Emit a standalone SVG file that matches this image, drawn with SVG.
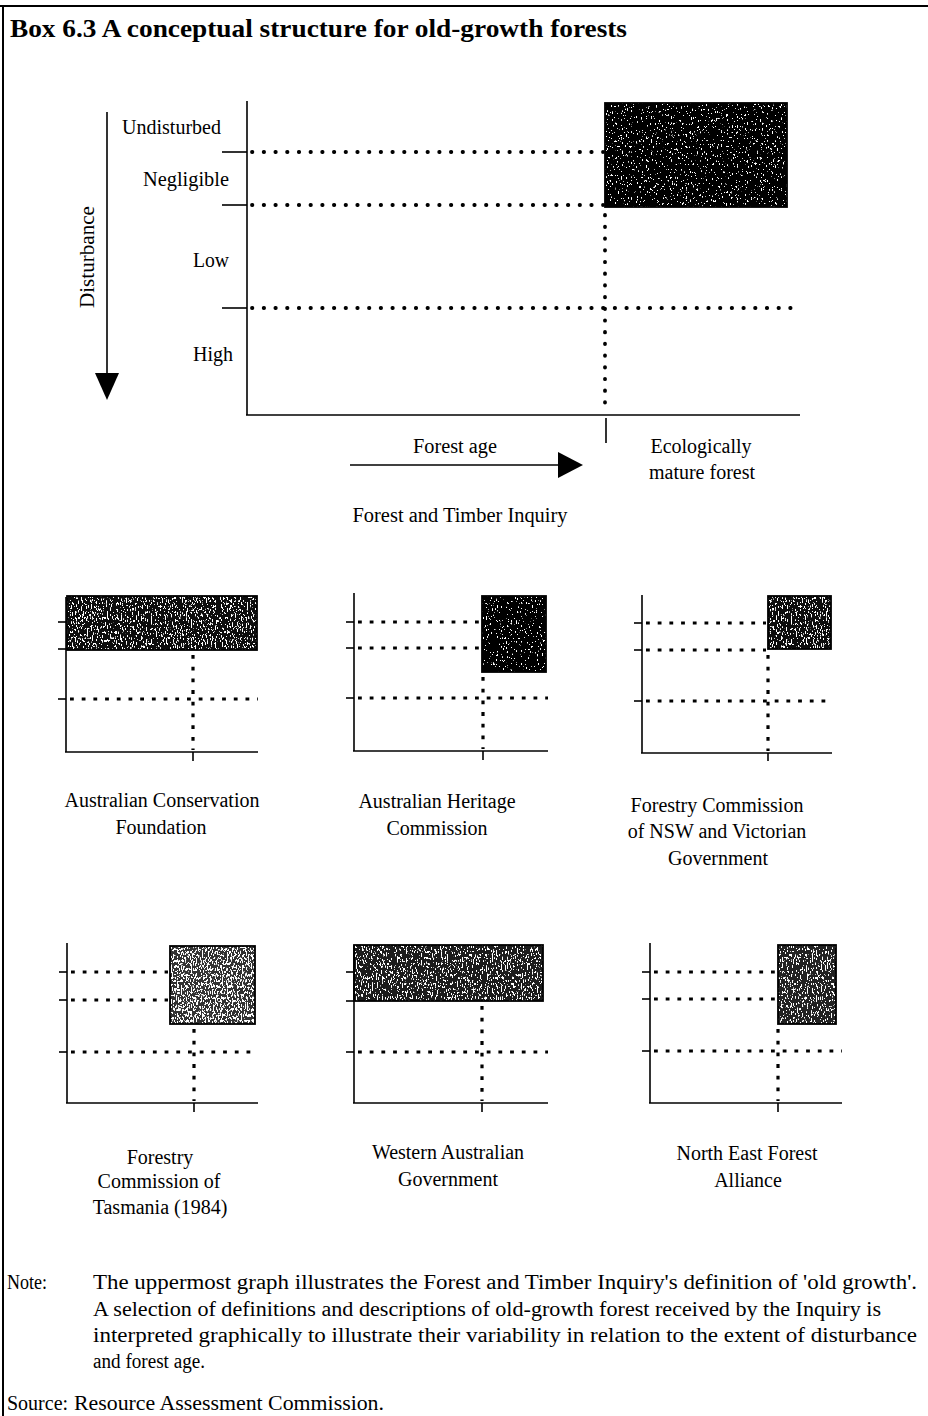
<svg xmlns="http://www.w3.org/2000/svg" width="928" height="1416" viewBox="0 0 928 1416">
<style>
.ax{stroke:#000;stroke-width:1.6;fill:none}
.bd{stroke:#000;stroke-width:2;fill:none}
.dot{stroke:#000;stroke-width:3.8;stroke-linecap:round;stroke-dasharray:0.4 11.3;fill:none}
.sdot{stroke:#000;stroke-width:3.2;stroke-dasharray:3.8 7.9;fill:none}
.box{stroke:#000;stroke-width:1.8;fill:none}
.t{font-family:"Liberation Serif","Times New Roman",serif;font-size:20px;fill:#000}
.c{text-anchor:middle}
.title{font-family:"Liberation Serif","Times New Roman",serif;font-size:26px;font-weight:bold;fill:#000}
</style>
<defs>
<filter id="nDark" x="0" y="0" width="1" height="1">
<feTurbulence type="fractalNoise" baseFrequency="0.8 0.35" numOctaves="2" seed="7" result="t"/>
<feColorMatrix in="t" type="matrix" values="0 0 0 0 1 0 0 0 0 1 0 0 0 0 1 -25 0 0 0 8.5" result="w"/>
<feComposite in="w" in2="SourceGraphic" operator="in" result="wc"/>
<feMerge><feMergeNode in="SourceGraphic"/><feMergeNode in="wc"/></feMerge>
</filter>
<filter id="nMed" x="0" y="0" width="1" height="1">
<feTurbulence type="fractalNoise" baseFrequency="0.8 0.35" numOctaves="2" seed="3" result="t"/>
<feColorMatrix in="t" type="matrix" values="0 0 0 0 1 0 0 0 0 1 0 0 0 0 1 -25 0 0 0 10.2" result="w"/>
<feComposite in="w" in2="SourceGraphic" operator="in" result="wc"/>
<feMerge><feMergeNode in="SourceGraphic"/><feMergeNode in="wc"/></feMerge>
</filter>
<filter id="nLight" x="0" y="0" width="1" height="1">
<feTurbulence type="fractalNoise" baseFrequency="0.8 0.35" numOctaves="2" seed="11" result="t"/>
<feColorMatrix in="t" type="matrix" values="0 0 0 0 1 0 0 0 0 1 0 0 0 0 1 -25 0 0 0 11.8" result="w"/>
<feComposite in="w" in2="SourceGraphic" operator="in" result="wc"/>
<feMerge><feMergeNode in="SourceGraphic"/><feMergeNode in="wc"/></feMerge>
</filter>
</defs>
<rect width="928" height="1416" fill="#fff"/>
<g id="frame">
<line class="bd" x1="0" y1="6" x2="928" y2="6"/>
<line class="bd" x1="3" y1="5" x2="3" y2="1416"/>
</g>
<text id="title" class="title" x="10" y="37" textLength="617" lengthAdjust="spacingAndGlyphs">Box 6.3  A conceptual structure for old-growth forests</text>

<g id="main-graph">
<rect x="605" y="103" width="182" height="104" fill="#000" filter="url(#nDark)"/>
<rect class="box" x="605" y="103" width="182" height="104"/>
<line class="ax" x1="247" y1="101" x2="247" y2="415"/>
<line class="ax" x1="246" y1="415" x2="800" y2="415"/>
<line class="ax" x1="222" y1="152" x2="247" y2="152"/>
<line class="ax" x1="222" y1="205" x2="247" y2="205"/>
<line class="ax" x1="222" y1="308" x2="247" y2="308"/>
<line class="dot" x1="252" y1="152" x2="603" y2="152"/>
<line class="dot" x1="252" y1="205" x2="603" y2="205"/>
<line class="dot" x1="252" y1="308" x2="798" y2="308"/>
<line class="dot" x1="605" y1="215" x2="605" y2="412"/>
<line class="ax" x1="606" y1="418" x2="606" y2="443"/>
<text class="t" x="122" y="134" textLength="99" lengthAdjust="spacingAndGlyphs">Undisturbed</text>
<text class="t" x="143" y="186" textLength="86" lengthAdjust="spacingAndGlyphs">Negligible</text>
<text class="t" x="193" y="267" textLength="36" lengthAdjust="spacingAndGlyphs">Low</text>
<text class="t" x="193" y="361" textLength="40" lengthAdjust="spacingAndGlyphs">High</text>
</g>

<g id="disturbance-axis">
<line class="ax" x1="107" y1="112" x2="107" y2="375"/>
<polygon points="95,373 119,373 107,400" fill="#000"/>
<text class="t c" transform="translate(94,257) rotate(-90)" textLength="102" lengthAdjust="spacingAndGlyphs">Disturbance</text>
</g>

<g id="age-axis">
<line class="ax" x1="350" y1="465" x2="560" y2="465"/>
<polygon points="558,452 558,478 583,465" fill="#000"/>
<text class="t c" x="455" y="453" textLength="84" lengthAdjust="spacingAndGlyphs">Forest age</text>
<text class="t c" x="701" y="453">Ecologically</text>
<text class="t c" x="702" y="479">mature forest</text>
<text class="t c" x="460" y="522" textLength="215" lengthAdjust="spacingAndGlyphs">Forest and Timber Inquiry</text>
</g>

<g id="acf">
<rect x="67" y="596" width="190" height="54" fill="#111" filter="url(#nMed)"/>
<rect class="box" x="67" y="596" width="190" height="54"/>
<line class="ax" x1="66" y1="597" x2="66" y2="752"/>
<line class="ax" x1="65" y1="752" x2="258" y2="752"/>
<line class="ax" x1="58" y1="622" x2="66" y2="622"/>
<line class="ax" x1="58" y1="649" x2="66" y2="649"/>
<line class="ax" x1="58" y1="699" x2="66" y2="699"/>
<line class="sdot" x1="70" y1="699" x2="258" y2="699"/>
<line class="sdot" x1="193" y1="655" x2="193" y2="750"/>
<line class="ax" x1="193" y1="752" x2="193" y2="761"/>
<text class="t c" x="162" y="807">Australian Conservation</text>
<text class="t c" x="161" y="834">Foundation</text>
</g>

<g id="ahc">
<rect x="482" y="596" width="64" height="76" fill="#000" filter="url(#nDark)"/>
<rect class="box" x="482" y="596" width="64" height="76"/>
<line class="ax" x1="354" y1="593" x2="354" y2="751"/>
<line class="ax" x1="353" y1="751" x2="548" y2="751"/>
<line class="ax" x1="346" y1="622" x2="354" y2="622"/>
<line class="ax" x1="346" y1="648" x2="354" y2="648"/>
<line class="ax" x1="346" y1="698" x2="354" y2="698"/>
<line class="sdot" x1="358" y1="622" x2="480" y2="622"/>
<line class="sdot" x1="358" y1="648" x2="480" y2="648"/>
<line class="sdot" x1="358" y1="698" x2="548" y2="698"/>
<line class="sdot" x1="483" y1="677" x2="483" y2="749"/>
<line class="ax" x1="483" y1="751" x2="483" y2="760"/>
<text class="t c" x="437" y="808">Australian Heritage</text>
<text class="t c" x="437" y="835">Commission</text>
</g>

<g id="fcnsw">
<rect x="768" y="596" width="63" height="53" fill="#0a0a0a" filter="url(#nMed)"/>
<rect class="box" x="768" y="596" width="63" height="53"/>
<line class="ax" x1="642" y1="595" x2="642" y2="753"/>
<line class="ax" x1="641" y1="753" x2="832" y2="753"/>
<line class="ax" x1="634" y1="623" x2="642" y2="623"/>
<line class="ax" x1="634" y1="650" x2="642" y2="650"/>
<line class="ax" x1="634" y1="701" x2="642" y2="701"/>
<line class="sdot" x1="646" y1="623" x2="766" y2="623"/>
<line class="sdot" x1="646" y1="650" x2="766" y2="650"/>
<line class="sdot" x1="646" y1="701" x2="832" y2="701"/>
<line class="sdot" x1="768" y1="655" x2="768" y2="751"/>
<line class="ax" x1="768" y1="753" x2="768" y2="761"/>
<text class="t c" x="717" y="812">Forestry Commission</text>
<text class="t c" x="717" y="838">of NSW and Victorian</text>
<text class="t c" x="718" y="865">Government</text>
</g>

<g id="fctas">
<rect x="170" y="946" width="85" height="78" fill="#333" filter="url(#nLight)"/>
<rect class="box" x="170" y="946" width="85" height="78"/>
<line class="ax" x1="67" y1="943" x2="67" y2="1103"/>
<line class="ax" x1="66" y1="1103" x2="258" y2="1103"/>
<line class="ax" x1="59" y1="972" x2="67" y2="972"/>
<line class="ax" x1="59" y1="1000" x2="67" y2="1000"/>
<line class="ax" x1="59" y1="1052" x2="67" y2="1052"/>
<line class="sdot" x1="71" y1="972" x2="168" y2="972"/>
<line class="sdot" x1="71" y1="1000" x2="168" y2="1000"/>
<line class="sdot" x1="71" y1="1052" x2="258" y2="1052"/>
<line class="sdot" x1="194" y1="1029" x2="194" y2="1101"/>
<line class="ax" x1="194" y1="1103" x2="194" y2="1112"/>
<text class="t c" x="160" y="1164">Forestry</text>
<text class="t c" x="159" y="1188">Commission of</text>
<text class="t c" x="160" y="1214">Tasmania (1984)</text>
</g>

<g id="wag">
<rect x="354" y="945" width="189" height="56" fill="#1a1a1a" filter="url(#nMed)"/>
<rect class="box" x="354" y="945" width="189" height="56"/>
<line class="ax" x1="354" y1="945" x2="354" y2="1103"/>
<line class="ax" x1="353" y1="1103" x2="548" y2="1103"/>
<line class="ax" x1="346" y1="972" x2="354" y2="972"/>
<line class="ax" x1="346" y1="1001" x2="354" y2="1001"/>
<line class="ax" x1="346" y1="1052" x2="354" y2="1052"/>
<line class="sdot" x1="358" y1="1052" x2="548" y2="1052"/>
<line class="sdot" x1="482" y1="1006" x2="482" y2="1101"/>
<line class="ax" x1="482" y1="1103" x2="482" y2="1112"/>
<text class="t c" x="448" y="1159">Western Australian</text>
<text class="t c" x="448" y="1186">Government</text>
</g>

<g id="nefa">
<rect x="778" y="945" width="58" height="79" fill="#222" filter="url(#nMed)"/>
<rect class="box" x="778" y="945" width="58" height="79"/>
<line class="ax" x1="650" y1="943" x2="650" y2="1103"/>
<line class="ax" x1="649" y1="1103" x2="842" y2="1103"/>
<line class="ax" x1="642" y1="972" x2="650" y2="972"/>
<line class="ax" x1="642" y1="999" x2="650" y2="999"/>
<line class="ax" x1="642" y1="1051" x2="650" y2="1051"/>
<line class="sdot" x1="654" y1="972" x2="776" y2="972"/>
<line class="sdot" x1="654" y1="999" x2="776" y2="999"/>
<line class="sdot" x1="654" y1="1051" x2="842" y2="1051"/>
<line class="sdot" x1="778" y1="1029" x2="778" y2="1101"/>
<line class="ax" x1="778" y1="1103" x2="778" y2="1112"/>
<text class="t c" x="747" y="1160">North East Forest</text>
<text class="t c" x="748" y="1187">Alliance</text>
</g>

<g id="note">
<text class="t" x="7" y="1289" textLength="40" lengthAdjust="spacingAndGlyphs">Note:</text>
<text class="t" x="93" y="1289" textLength="824" lengthAdjust="spacingAndGlyphs">The uppermost graph illustrates the Forest and Timber Inquiry's definition of 'old growth'.</text>
<text class="t" x="93" y="1316" textLength="788" lengthAdjust="spacingAndGlyphs">A selection of definitions and descriptions of old-growth forest received by the Inquiry is</text>
<text class="t" x="93" y="1342" textLength="824" lengthAdjust="spacingAndGlyphs">interpreted graphically to illustrate their variability in relation to the extent of disturbance</text>
<text class="t" x="93" y="1368" textLength="112" lengthAdjust="spacingAndGlyphs">and forest age.</text>
<text class="t" x="7" y="1410">Source:</text>
<text class="t" x="74" y="1410" textLength="310" lengthAdjust="spacingAndGlyphs">Resource Assessment Commission.</text>
</g>
</svg>
